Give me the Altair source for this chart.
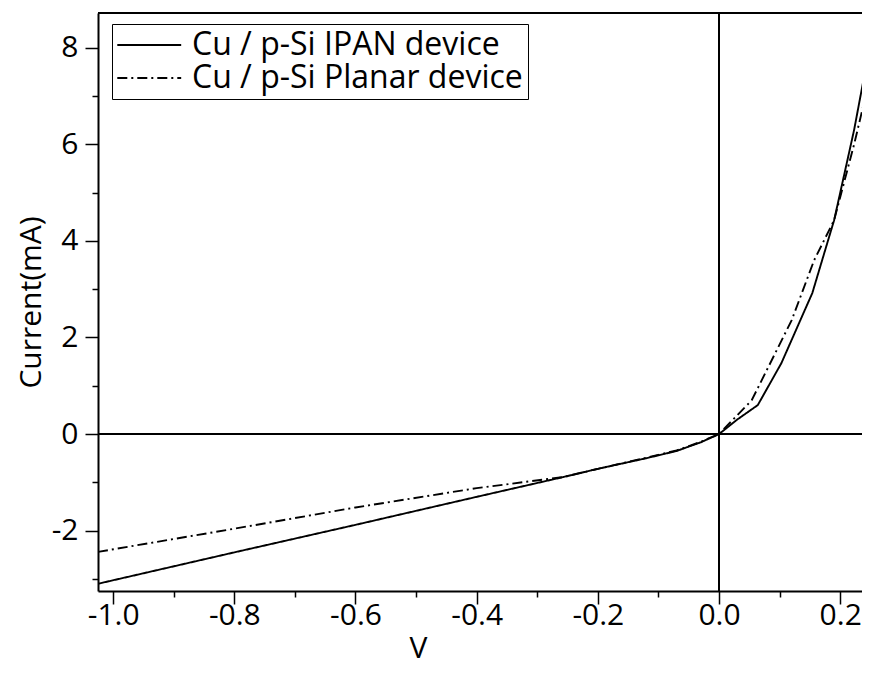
import altair as alt
import pandas as pd

series_names = ["Cu / p-Si IPAN device", "Cu / p-Si Planar device"]

v_ipan = [-1.025, -0.8, -0.6, -0.4, -0.257, -0.2, -0.12, -0.07, -0.03, 0.0,
          0.03, 0.064, 0.103, 0.154, 0.19, 0.223, 0.241]
i_ipan = [-3.10, -2.45, -1.88, -1.30, -0.89, -0.72, -0.50, -0.35, -0.17, 0.0,
          0.30, 0.60, 1.47, 2.92, 4.43, 6.30, 7.50]

v_planar = [-1.025, -0.8, -0.6, -0.4, -0.257, -0.2, -0.12, -0.07, -0.03, 0.0,
            0.054, 0.12, 0.157, 0.19, 0.223, 0.241]
i_planar = [-2.44, -1.96, -1.52, -1.12, -0.89, -0.72, -0.49, -0.34, -0.16, 0.0,
            0.70, 2.36, 3.60, 4.43, 6.00, 6.95]

x_major = [-1.0, -0.8, -0.6, -0.4, -0.2, 0.0, 0.2]
x_minor = [-0.9, -0.7, -0.5, -0.3, -0.1, 0.1]
y_major = [-2, 0, 2, 4, 6, 8]
y_minor = [-3, -1, 1, 3, 5, 7]
x_domain = [-1.025, 0.236]
y_domain = [-3.25, 8.72]

df = pd.concat([
    pd.DataFrame({"V": v_ipan, "I": i_ipan, "series": series_names[0]}),
    pd.DataFrame({"V": v_planar, "I": i_planar, "series": series_names[1]}),
], ignore_index=True)

FONT = "Open Sans"
FS = 30
xs = alt.Scale(domain=x_domain, nice=False, zero=False)
ys = alt.Scale(domain=y_domain, nice=False, zero=False)

lbl_x = "(datum.value < 0 ? '-' : '') + format(abs(datum.value), '.1f')"
lbl_y = "(datum.value < 0 ? '-' : '') + format(abs(datum.value), 'd')"

lines = alt.Chart(df).mark_line(color="black", strokeWidth=1.9, clip=True).encode(
    x=alt.X("V:Q", scale=xs, axis=alt.Axis(
        values=x_major, orient="bottom", title="V", labelExpr=lbl_x,
        tickSize=13, labelPadding=-4, titleX=320, titleY=66,
        titleBaseline="alphabetic")),
    y=alt.Y("I:Q", scale=ys, axis=alt.Axis(
        values=y_major, orient="left", title="Current(mA)", labelExpr=lbl_y,
        tickSize=13, labelPadding=7, titlePadding=5)),
    strokeDash=alt.StrokeDash(
        "series:N",
        scale=alt.Scale(domain=series_names, range=[[1, 0], [10, 4, 2, 4]]),
        legend=alt.Legend(
            title=None, orient="none", legendX=14, legendY=11,
            direction="vertical", strokeColor="black", fillColor="white",
            padding=5, symbolType="M-1.45,0H4.45", symbolSize=469,
            symbolStrokeWidth=1.8, symbolStrokeColor="black",
            symbolFillColor="transparent",
            labelFont=FONT, labelFontSize=32, labelColor="black",
            labelOffset=43, labelLimit=600, rowPadding=1)),
)

minor = alt.Chart(df).mark_line(opacity=0).encode(
    x=alt.X("V:Q", scale=xs, axis=alt.Axis(
        values=x_minor, orient="bottom", title=None, labels=False,
        domain=False, tickSize=6)),
    y=alt.Y("I:Q", scale=ys, axis=alt.Axis(
        values=y_minor, orient="left", title=None, labels=False,
        domain=False, tickSize=6)),
)

hline = alt.Chart(df).mark_rule(color="black", strokeWidth=1.5).encode(
    y=alt.Y(datum=0, scale=ys, axis=None))
vline = alt.Chart(df).mark_rule(color="black", strokeWidth=1.5).encode(
    x=alt.X(datum=0, scale=xs, axis=None))
top = alt.Chart(df).mark_rule(color="black", strokeWidth=2).encode(
    y=alt.value(0))

chart = alt.layer(hline, vline, top, minor, lines).resolve_axis(
    x="independent", y="independent"
).properties(
    width=764, height=578,
    autosize=alt.AutoSizeParams(type="none"),
    padding={"left": 90, "top": 5, "right": 0, "bottom": 74},
).configure_view(strokeWidth=0).configure_axis(
    domainColor="black", domainWidth=2, tickColor="black", tickWidth=1.5,
    labelFont=FONT, labelFontSize=FS, labelColor="black",
    titleFont=FONT, titleFontSize=FS, titleFontWeight="normal",
    titleColor="black", grid=False,
)

chart.save("out.html", embed_options={"renderer": "svg", "actions": False})
